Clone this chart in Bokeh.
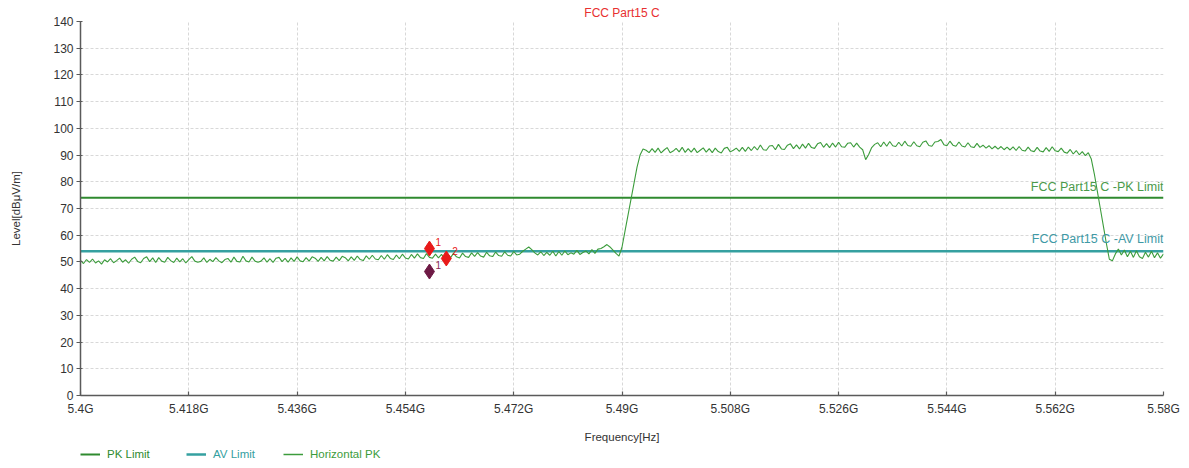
import numpy as np
from bokeh.plotting import figure
from bokeh.layouts import column
from bokeh.models import Range1d, FixedTicker, Label, Legend, LegendItem
from bokeh.embed import file_html
from bokeh.resources import INLINE

# ---------------- data ----------------
freq_start_mhz = 5400.0
freq_stop_mhz = 5580.0

level_dbuv = [
    # 5400 - 5444.5 MHz
    50.6, 49.4, 50.9, 49.8, 51.1, 49.6, 50.4, 49.2, 50.8, 50.0,
    51.2, 49.7, 50.5, 51.4, 49.9, 50.8, 49.5, 51.0, 51.8, 50.2,
    49.7, 51.3, 51.9, 50.1, 51.5, 49.8, 51.6, 50.3, 49.9, 51.7,
    50.5, 49.8, 51.4, 50.0, 51.2, 49.6, 50.9, 52.0, 50.3, 49.9,
    50.2, 51.5, 49.8, 51.0, 50.1, 51.6, 50.4, 49.7, 50.9, 51.3,
    49.9, 51.8, 50.2, 50.0, 52.1, 50.4, 50.0, 51.8, 50.3, 49.9,
    50.3, 51.5, 49.9, 51.2, 49.8, 51.4, 51.7, 50.1, 51.3, 49.9,
    51.5, 50.2, 51.9, 50.4, 50.1, 51.6, 50.3, 51.9, 51.4, 50.2,
    51.7, 50.4, 52.0, 50.6, 50.3, 51.8, 50.5, 52.1, 51.6, 50.4,
    # 5445 - 5459.5 MHz
    51.9, 50.6, 52.2, 50.9, 50.5, 52.3, 51.0, 52.5, 51.1, 50.8,
    52.4, 51.0, 52.7, 51.3, 50.9, 52.6, 51.2, 52.9, 51.5, 51.1,
    52.8, 51.4, 53.0, 51.6, 51.3, 53.1, 51.7, 51.4, 52.9, 51.5,
    # 5460 - 5474.5 MHz
    52.8, 51.3, 53.0, 51.6, 53.2, 51.9, 51.5, 53.3, 52.0, 51.7,
    53.4, 52.1, 53.5, 52.2, 51.8, 53.6, 52.3, 52.0, 53.7, 52.4,
    52.1, 53.8, 52.5, 52.2, 53.9, 52.6, 52.9, 54.0, 54.8, 55.6,
    # 5475 - 5489.5 MHz
    54.6, 53.4, 52.6, 53.8, 52.4, 53.6, 52.5, 54.0, 52.2, 53.9,
    52.5, 54.1, 52.7, 53.4, 52.9, 54.3, 52.8, 53.5, 54.1, 53.0,
    54.6, 53.2, 54.8, 55.0, 55.7, 56.5, 55.6, 54.4, 53.2, 52.2,
    # rising edge 5490 - 5493.5 MHz
    55.5, 61.5, 67.5, 73.5, 79.5, 85.5, 90.0, 92.3,
    # 5494 - 5509.5 MHz
    91.8, 90.9, 92.4, 91.0, 92.6, 90.8, 91.9, 92.8, 90.9, 91.5,
    92.5, 91.2, 92.9, 91.0, 92.4, 91.1, 92.6, 90.9, 91.8, 92.7,
    91.1, 92.4, 90.9, 92.6, 91.3, 90.8, 92.5, 92.9, 91.2, 91.8,
    92.6, 91.4,
    # 5510 - 5529.5 MHz
    92.9, 91.4, 93.0, 91.7, 93.2, 91.9, 93.8, 92.0, 91.8, 93.4,
    93.6, 92.0, 94.0, 92.3, 92.1, 93.7, 94.2, 92.4, 93.8, 92.3,
    94.1, 92.6, 94.4, 92.8, 92.5, 94.2, 94.7, 92.9, 94.3, 92.8,
    94.5, 93.0, 94.8, 93.1, 92.9, 94.4, 94.6, 93.0, 94.5, 93.0,
    # dip 5530 - 5532 MHz
    92.0, 88.3, 90.2, 92.8, 94.0,
    # 5532.5 - 5549.5 MHz
    94.6, 93.1, 94.9, 93.3, 95.1, 93.5, 93.2, 94.8, 93.4, 95.2,
    93.6, 93.3, 95.0, 93.5, 93.1, 94.8, 95.3, 93.6, 93.3, 94.9,
    95.1, 95.8, 93.9, 93.5, 95.2, 93.7, 93.3, 94.9, 93.4, 93.0,
    94.6, 93.1, 92.8, 94.4, 92.9,
    # 5550 - 5567.5 MHz
    93.7, 92.6, 93.5, 92.3, 93.3, 92.2, 93.2, 92.0, 93.0, 91.9,
    93.1, 91.7, 93.2, 91.8, 91.5, 93.0, 91.6, 91.3, 92.9, 91.5,
    91.2, 92.8, 91.4, 93.1, 91.6, 91.3, 92.6, 91.1, 90.7, 92.1,
    90.4, 91.7, 90.1, 91.3, 89.8, 90.9,
    # falling edge and tail 5568 - 5580 MHz
    88.5, 83.0, 76.5, 70.0, 63.5, 57.0, 51.0, 50.4, 53.0, 54.8,
    52.6, 54.5, 51.9, 54.0, 51.7, 54.2, 51.9, 51.3, 53.6, 51.8,
    54.0, 51.6, 53.4, 51.4, 53.0,
]

x_ticks = [5400, 5418, 5436, 5454, 5472, 5490, 5508, 5526, 5544, 5562, 5580]
x_tick_labels = ["5.4G", "5.418G", "5.436G", "5.454G", "5.472G", "5.49G",
                 "5.508G", "5.526G", "5.544G", "5.562G", "5.58G"]
y_ticks = [0, 10, 20, 30, 40, 50, 60, 70, 80, 90, 100, 110, 120, 130, 140]

pk_limit = 74.0
av_limit = 54.0

pk_marker_freq = [5458.0, 5460.8]
pk_marker_level = [55.0, 51.3]
pk_marker_names = ["1", "2"]
av_marker_freq = [5458.0]
av_marker_level = [46.4]
av_marker_names = ["1"]

legend_names = ["PK Limit", "AV Limit", "Horizontal PK"]

freq = np.linspace(freq_start_mhz, freq_stop_mhz, len(level_dbuv))

# ---------------- styles ----------------
FONT = "Liberation Sans"
PK_COL = "#2f8a2f"
AV_COL = "#35a0a0"
TRACE_COL = "#3c9c3c"
AXIS_COL = "#5a5a5a"
TXT_COL = "#333333"
W = 1180

p = figure(width=W, height=446, output_backend="svg", toolbar_location=None,
           x_range=Range1d(freq_start_mhz, freq_stop_mhz), y_range=Range1d(0, 140),
           min_border_left=80, min_border_right=17, min_border_top=21,
           min_border_bottom=51)
p.outline_line_color = None
p.background_fill_color = "white"
p.border_fill_color = "white"

p.title.text = "FCC Part15 C"
p.title.align = "center"
p.title.text_font = FONT
p.title.text_font_size = "12px"
p.title.text_font_style = "normal"
p.title.text_color = "#e83030"
p.title.standoff = 3

p.xaxis.ticker = FixedTicker(ticks=x_ticks)
p.xaxis.major_label_overrides = {t: l for t, l in zip(x_ticks, x_tick_labels)}
p.yaxis.ticker = FixedTicker(ticks=y_ticks)

for ax in (p.xaxis[0], p.yaxis[0]):
    ax.axis_line_color = AXIS_COL
    ax.axis_line_width = 1.5
    ax.major_tick_line_color = AXIS_COL
    ax.major_tick_line_width = 1.2
    ax.minor_tick_line_color = None
    ax.major_label_text_font = FONT
    ax.major_label_text_font_size = "12px"
    ax.major_label_text_color = TXT_COL
    ax.axis_label_text_font = FONT
    ax.axis_label_text_font_size = "11.5px"
    ax.axis_label_text_font_style = "normal"
    ax.axis_label_text_color = TXT_COL

p.xaxis.axis_label = "Frequency[Hz]"
p.yaxis.axis_label = "Level[dBμV/m]"
p.xaxis.major_tick_in = 4
p.xaxis.major_tick_out = 0
p.xaxis.major_label_standoff = 6
p.xaxis.axis_label_standoff = 12
p.yaxis.major_tick_in = 2
p.yaxis.major_tick_out = 4
p.yaxis.major_label_standoff = 3
p.yaxis.axis_label_standoff = 28

for g in (p.xgrid[0], p.ygrid[0]):
    g.grid_line_color = "#d8d8d8"
    g.grid_line_dash = "3 2"
    g.grid_line_width = 1

pk_r = p.line([freq_start_mhz, freq_stop_mhz], [pk_limit, pk_limit],
              line_color=PK_COL, line_width=2)
av_r = p.line([freq_start_mhz, freq_stop_mhz], [av_limit, av_limit],
              line_color=AV_COL, line_width=2.5)
tr_r = p.line(freq, level_dbuv, line_color=TRACE_COL, line_width=1.1)

p.scatter(pk_marker_freq, pk_marker_level, marker="diamond", size=15,
          fill_color="#e81a1a", line_color="#e81a1a")
p.scatter(av_marker_freq, av_marker_level, marker="diamond", size=15,
          fill_color="#6e1a45", line_color="#6e1a45")
p.text(pk_marker_freq, pk_marker_level, text=pk_marker_names, x_offset=6, y_offset=-3,
       text_font_size="10px", text_color="#e81a1a", text_baseline="bottom")
p.text(av_marker_freq, av_marker_level, text=av_marker_names, x_offset=6, y_offset=-3,
       text_font_size="10px", text_color="#8a2a55", text_baseline="bottom")

p.add_layout(Label(x=freq_stop_mhz, y=pk_limit, text="FCC Part15 C -PK Limit",
                   text_align="right", text_baseline="bottom", y_offset=4,
                   text_font=FONT, text_font_size="12.5px", text_color="#4a9a4a"))
p.add_layout(Label(x=freq_stop_mhz, y=av_limit, text="FCC Part15 C -AV Limit",
                   text_align="right", text_baseline="bottom", y_offset=5,
                   text_font=FONT, text_font_size="12.5px", text_color="#3f9aa6"))

# ---------------- legend strip below the chart ----------------
lf = figure(width=W, height=16, output_backend="svg", toolbar_location=None,
            x_range=Range1d(0, 1), y_range=Range1d(0, 1),
            x_axis_type=None, y_axis_type=None, min_border=0)
lf.outline_line_color = None
lf.grid.visible = False

leg_styles = [(PK_COL, 2), (AV_COL, 2.5), (TRACE_COL, 1.5)]
leg_x = [0, 106, 203]
for name, (col, lw), xloc in zip(legend_names, leg_styles, leg_x):
    # renderer kept out of view; it only supplies the legend swatch
    r = lf.line([-5, -4], [-5, -5], line_color=col, line_width=lw)
    lg = Legend(items=[LegendItem(label=name, renderers=[r])],
                location=(xloc, 0), orientation="horizontal",
                padding=0, margin=0, spacing=0,
                glyph_width=20, glyph_height=16, label_height=16,
                label_standoff=7, label_text_font=FONT,
                label_text_font_size="11.5px", label_text_color=col,
                border_line_color=None, background_fill_alpha=0)
    lf.add_layout(lg, "center")

open("out.html", "w").write(file_html(column(p, lf, spacing=0), INLINE))
